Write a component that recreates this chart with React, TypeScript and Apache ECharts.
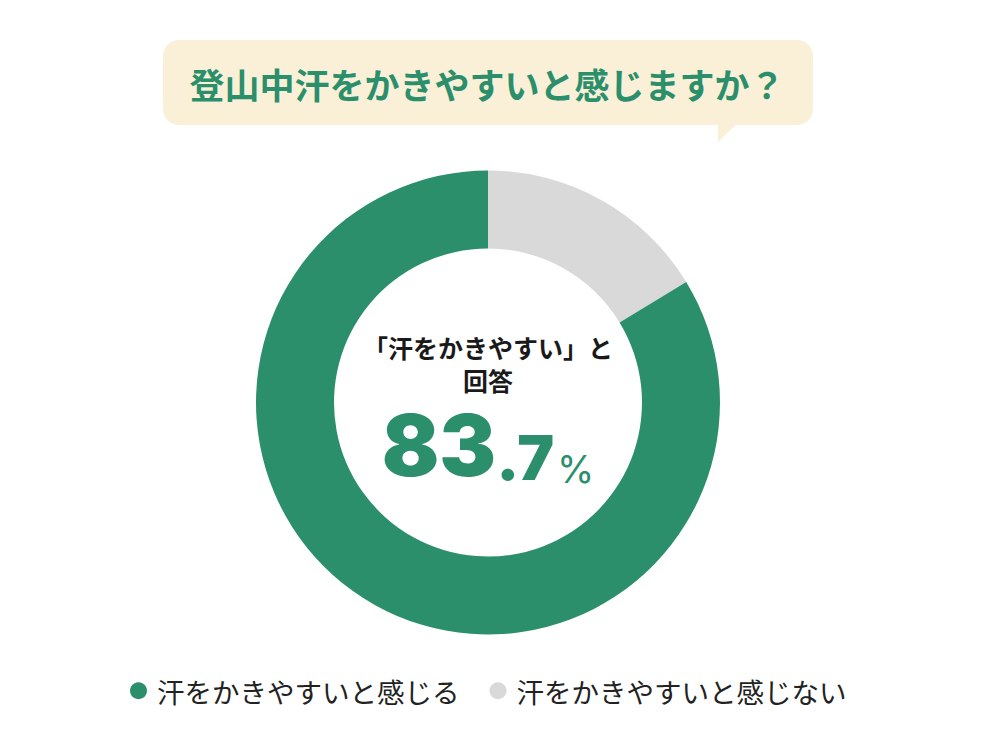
import * as echarts from 'echarts'
import { useEffect, useRef } from 'react'

// 設問とカテゴリ
const question = '登山中汗をかきやすいと感じますか？'
const categories = ['汗をかきやすいと感じる', '汗をかきやすいと感じない']
const values = [83.7, 16.3]
const colors = ['#2b8f6c', '#d9d9d9']
const centerCaption = ['「汗をかきやすい」と', '回答']

const GREEN = '#2b8f6c'
const JP_FONT = '"Noto Sans CJK JP", "Noto Sans", sans-serif'
const NUM_FONT = 'Inter, Roboto, sans-serif'

export default function App() {
  const chartRef = useRef<HTMLDivElement>(null)

  useEffect(() => {
    document.body.style.margin = '0'
    if (!chartRef.current) return
    const chart = echarts.init(chartRef.current, null, { renderer: 'svg' })

    const [intPart, decPart] = values[0].toFixed(1).split('.')

    // 時計回りで灰色が先頭に来るように並べ替え
    const pieData = [1, 0].map(i => ({
      name: categories[i],
      value: values[i],
      itemStyle: { color: colors[i] }
    }))

    const option: any = {
      animation: false,
      backgroundColor: '#ffffff',
      legend: {
        data: categories,
        left: 125,
        top: 672,
        icon: 'circle',
        itemWidth: 17,
        itemHeight: 17,
        itemGap: 30,
        selectedMode: false,
        textStyle: {
          fontSize: 27.5,
          color: '#222222',
          fontFamily: JP_FONT,
          padding: [0, 0, 0, 5]
        }
      },
      graphic: [
        {
          type: 'rect',
          shape: { x: 163, y: 40, width: 650, height: 85, r: 16 },
          style: { fill: '#faf0d7' },
          silent: true
        },
        {
          type: 'polygon',
          shape: { points: [[718, 123], [738, 123], [718, 142]] },
          style: { fill: '#faf0d7' },
          silent: true
        },
        {
          type: 'text',
          style: {
            x: 487,
            y: 83,
            text: question,
            align: 'center',
            verticalAlign: 'middle',
            fill: GREEN,
            font: `bold 35px ${JP_FONT}`
          },
          silent: true
        },
        {
          type: 'text',
          style: {
            x: 488,
            y: 363,
            text: centerCaption.join('\n'),
            align: 'center',
            verticalAlign: 'middle',
            fill: '#1a1a1a',
            font: `bold 25px ${JP_FONT}`,
            lineHeight: 33
          },
          silent: true
        },
        {
          type: 'text',
          style: {
            x: 488,
            y: 488,
            text: `{a|${intPart}}{b|.${decPart}}{c|%}`,
            align: 'center',
            verticalAlign: 'bottom',
            rich: {
              a: { fontSize: 85, fontWeight: 900, fontFamily: NUM_FONT, fill: GREEN, lineHeight: 60, verticalAlign: 'bottom' },
              b: { fontSize: 62, fontWeight: 900, fontFamily: NUM_FONT, fill: GREEN, lineHeight: 43, verticalAlign: 'bottom', padding: [0, 3, 0, 0] },
              c: { fontSize: 38, fontWeight: 400, fontFamily: NUM_FONT, fill: GREEN, lineHeight: 29, verticalAlign: 'bottom' }
            }
          },
          silent: true
        }
      ],
      series: [
        {
          type: 'pie',
          center: [488, 402.5],
          radius: [154, 232],
          startAngle: 90,
          clockwise: true,
          silent: true,
          label: { show: false },
          labelLine: { show: false },
          itemStyle: { borderWidth: 0 },
          data: pieData
        }
      ]
    }

    chart.setOption(option)

    return () => {
      chart.dispose()
    }
  }, [])

  return <div ref={chartRef} style={{ width: '1000px', height: '750px' }} />
}
